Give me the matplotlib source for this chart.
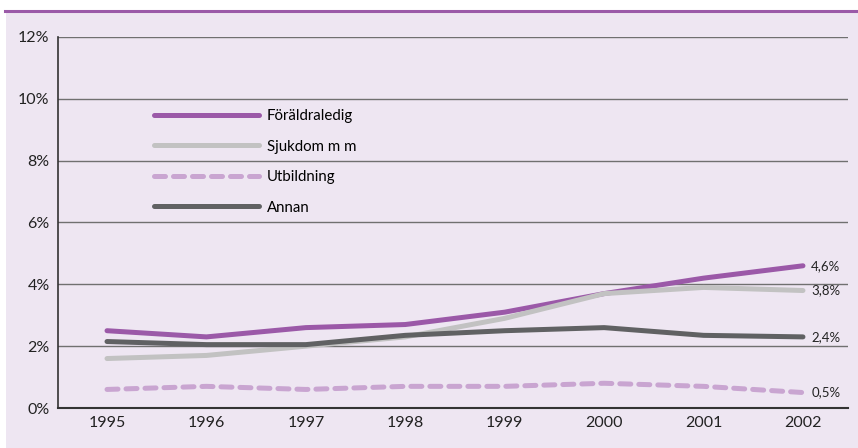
import matplotlib
matplotlib.use("Agg")
import matplotlib.pyplot as plt
from matplotlib.patches import Rectangle
from matplotlib.lines import Line2D

years = [1995, 1996, 1997, 1998, 1999, 2000, 2001, 2002]
foraldraledig = [2.5, 2.3, 2.6, 2.7, 3.1, 3.7, 4.2, 4.6]
sjukdom = [1.6, 1.7, 2.0, 2.3, 2.9, 3.7, 3.9, 3.8]
utbildning = [0.6, 0.7, 0.6, 0.7, 0.7, 0.8, 0.7, 0.5]
annan = [2.15, 2.05, 2.05, 2.35, 2.5, 2.6, 2.35, 2.3]
end_labels = ["4,6%", "3,8%", "0,5%", "2,4%"]
yticks = [0, 2, 4, 6, 8, 10, 12]

plt.rcParams['font.family'] = ['Lato', 'DejaVu Sans']

bg = '#EEE6F2'
fig = plt.figure(figsize=(8.58, 4.48), dpi=100)
fig.patch.set_facecolor('white')
# lavender panel and purple rule on top
fig.patches.append(Rectangle((6 / 858, 0), 1, 1 - 12 / 448, transform=fig.transFigure,
                             facecolor=bg, edgecolor='none', zorder=-10))
fig.lines.append(Line2D([5 / 858, 1], [1 - 11 / 448, 1 - 11 / 448], transform=fig.transFigure,
                        color='#9B5AA8', lw=2.2, zorder=-5))

ax = fig.add_axes([58 / 858, 1 - 408 / 448, 790 / 858, 371 / 448])
ax.set_zorder(1)
ax.set_facecolor('none')

series = [
    (foraldraledig, '#9B59A8', '-', 'Föräldraledig'),
    (sjukdom, '#C2C2C2', '-', 'Sjukdom m m'),
    (utbildning, '#C9A5D1', (0, (2.2, 1.6)), 'Utbildning'),
    (annan, '#606163', '-', 'Annan'),
]
for vals, col, ls, name in series:
    ax.plot(years, vals, color=col, lw=3.6, ls=ls, label=name, solid_capstyle='round',
            dash_capstyle='round', zorder=3)

for (vals, col, ls, name), lab in zip(series, end_labels):
    ax.annotate(lab, (years[-1], vals[-1]), xytext=(6, 0), textcoords='offset points',
                va='center', ha='left', fontsize=9.5, color='#222222')

ax.set_xlim(1994.507, 2002.453)
ax.set_ylim(0, 12)
ax.set_yticks(yticks)
ax.set_yticklabels([f"{t}%" for t in yticks])
ax.set_xticks(years)
ax.grid(axis='y', color='#707070', lw=1)
ax.set_axisbelow(True)
for s in ['top', 'right']:
    ax.spines[s].set_visible(False)
ax.spines['left'].set_color('#333333')
ax.spines['bottom'].set_color('#333333')
ax.spines['left'].set_linewidth(1.2)
ax.spines['bottom'].set_linewidth(1.5)
ax.tick_params(length=0, labelsize=11.5, colors='#222222', pad=6)

leg = ax.legend(loc='upper left', bbox_to_anchor=(0.105, 0.842), frameon=False, fontsize=10.8,
                handlelength=7.0, handletextpad=0.5, labelspacing=1.1)

fig.savefig('out.png', dpi=100)
